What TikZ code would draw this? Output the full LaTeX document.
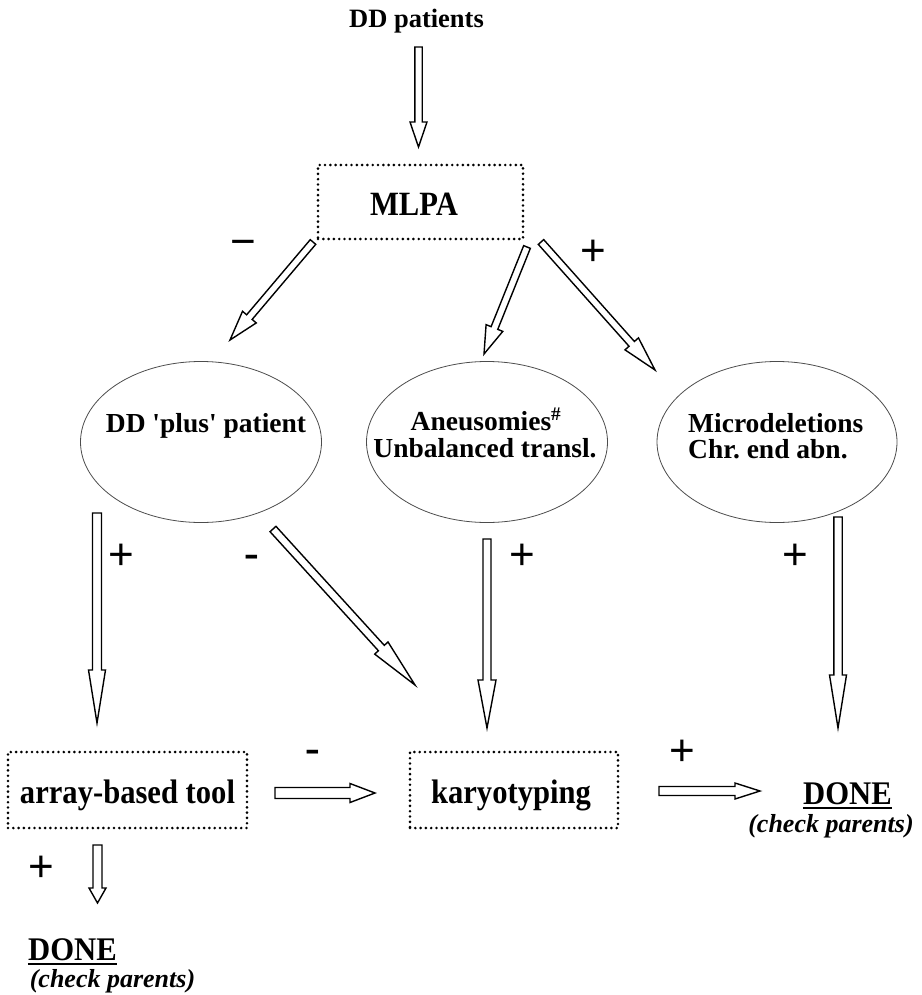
\documentclass[tikz,border=0pt]{standalone}
\usepackage{fontspec}
\setmainfont{Liberation Serif}
\newfontfamily\signfont{Liberation Sans}
\newfontfamily\condfont[FakeStretch=0.9]{Liberation Serif}
\newfontfamily\donefont[FakeStretch=0.93]{Liberation Serif}
\usetikzlibrary{calc,shapes.geometric}
\frenchspacing

% hollow block arrow: #1 tail, #2 tip, #3 half shaft width, #4 half head width, #5 head length
\newcommand\harrow[5]{%
  \coordinate (hb) at ($(#2)!#5!(#1)$);
  \draw[hollow] ($(#1)!#3!90:(#2)$) -- ($(hb)!#3!-90:(#1)$) -- ($(hb)!#4!-90:(#1)$)
     -- (#2) -- ($(hb)!#4!90:(#1)$) -- ($(hb)!#3!90:(#1)$) -- ($(#1)!#3!-90:(#2)$) -- cycle;
}

\tikzset{
  hollow/.style={draw=black, fill=white, line width=1.4pt, line join=miter},
  dotbox/.style={draw=black, line width=2.9pt, dash pattern=on 0pt off 5.3pt, line cap=round, inner sep=0pt},
  ell/.style={ellipse, draw=black!70, line width=0.8pt, inner sep=0pt},
  lbl/.style={inner sep=0pt, anchor=base},
  ftop/.style={font=\fontsize{26.5}{28}\selectfont\bfseries},
  fbox/.style={font=\condfont\fontsize{34}{36}\selectfont\bfseries},
  fell/.style={font=\fontsize{27.5}{29}\selectfont\bfseries},
  fdone/.style={font=\donefont\fontsize{33}{35}\selectfont\bfseries},
  fcheck/.style={font=\fontsize{26}{28}\selectfont\bfseries\itshape},
  sgn/.style={inner sep=0pt, font=\signfont\fontsize{44}{44}\selectfont},
  dsh/.style={inner sep=0pt, font=\fontsize{44}{44}\selectfont\bfseries},
  uline/.style={line width=1.8pt}
}

\begin{document}
\begin{tikzpicture}[x=1pt,y=1pt]
\useasboundingbox (0,0) rectangle (921,-995);

% ---- texts and boxes ----
\node[lbl,ftop] (ddp) at (416.5,-28) {DD patients};

\node[dotbox, minimum width=205pt, minimum height=74pt] (mlpa) at (420.5,-202) {};
\node[lbl,fbox] (mlpat) at (414,-215) {MLPA};

\node[ell, minimum width=241pt, minimum height=161pt] (e1) at (201,-442) {};
\node[ell, minimum width=241pt, minimum height=161pt] (e2) at (487,-442) {};
\node[ell, minimum width=240pt, minimum height=161pt] (e3) at (777,-442) {};

\node[lbl,fell] (e1t) at (206,-432) {DD \textquotesingle plus\textquotesingle{} patient};
\node[lbl,fell] (e2ta) at (486,-430) {Aneusomies\textsuperscript{\#}};
\node[lbl,fell] (e2tb) at (485,-457) {Unbalanced transl.};
\node[lbl,fell,anchor=base west] (e3ta) at (688,-432) {Microdeletions};
\node[lbl,fell,anchor=base west] (e3tb) at (688,-458) {Chr. end abn.};

\node[dotbox, minimum width=239pt, minimum height=76pt] (arr) at (127.5,-790) {};
\node[lbl,fbox] (arrt) at (127.5,-803) {array-based tool};
\node[dotbox, minimum width=208pt, minimum height=76pt] (kar) at (514,-790) {};
\node[lbl,fbox] (kart) at (511,-803) {karyotyping};

\node[lbl,fdone] (done1) at (847.5,-804) {DONE};
\draw[uline] ([yshift=-4pt]done1.base west) -- ([yshift=-4pt]done1.base east);
\node[lbl,fcheck] (chk1) at (831,-832) {(check parents)};

\node[lbl,fdone] (done2) at (72.5,-960) {DONE};
\draw[uline] ([yshift=-4pt]done2.base west) -- ([yshift=-4pt]done2.base east);
\node[lbl,fcheck] (chk2) at (112.5,-987) {(check parents)};

% ---- signs ----
\node[sgn] (s1) at (243,-248) {−};
\node[sgn] (s2) at (593.5,-253) {+};
\node[sgn] (s3) at (121,-557) {+};
\node[dsh] (s4) at (251.5,-561) {-};
\node[sgn] (s5) at (522,-557) {+};
\node[sgn] (s6) at (795,-557) {+};
\node[dsh] (s7) at (313,-756) {-};
\node[sgn] (s8) at (682,-753) {+};
\node[sgn] (s9) at (41,-869) {+};

% ---- arrow end points ----
\coordinate (a0s) at (418.5,-47);  \coordinate (a0e) at (418.5,-147);
\coordinate (a1s) at (313,-242);   \coordinate (a1e) at (230,-340);
\coordinate (a2s) at (527,-247);   \coordinate (a2e) at (484,-354);
\coordinate (a3s) at (541,-242);   \coordinate (a3e) at (655,-370);
\coordinate (a4s) at (97,-513);    \coordinate (a4e) at (97,-723);
\coordinate (a5s) at (273,-529);   \coordinate (a5e) at (415,-685);
\coordinate (a6s) at (487,-539);   \coordinate (a6e) at (487,-728);
\coordinate (a7s) at (838,-517);   \coordinate (a7e) at (838,-728);
\coordinate (a8s) at (275,-793);   \coordinate (a8e) at (375,-793);
\coordinate (a9s) at (659,-791);   \coordinate (a9e) at (760,-791);
\coordinate (a10s) at (97.5,-845); \coordinate (a10e) at (97.5,-903);

% ---- arrows ----
\harrow{a0s}{a0e}{3.7pt}{8.5pt}{25pt}
\harrow{a1s}{a1e}{3.6pt}{9pt}{30pt}
\harrow{a2s}{a2e}{3.6pt}{9pt}{28pt}
\harrow{a3s}{a3e}{3.6pt}{9pt}{35pt}
\harrow{a4s}{a4e}{4.5pt}{8.5pt}{53pt}
\harrow{a5s}{a5e}{4pt}{9pt}{50pt}
\harrow{a6s}{a6e}{4pt}{9pt}{48pt}
\harrow{a7s}{a7e}{4.2pt}{8.5pt}{53pt}
\harrow{a8s}{a8e}{5.5pt}{9.5pt}{25pt}
\harrow{a9s}{a9e}{4.5pt}{8pt}{25pt}
\harrow{a10s}{a10e}{4.5pt}{8.5pt}{15pt}
\end{tikzpicture}
\end{document}
